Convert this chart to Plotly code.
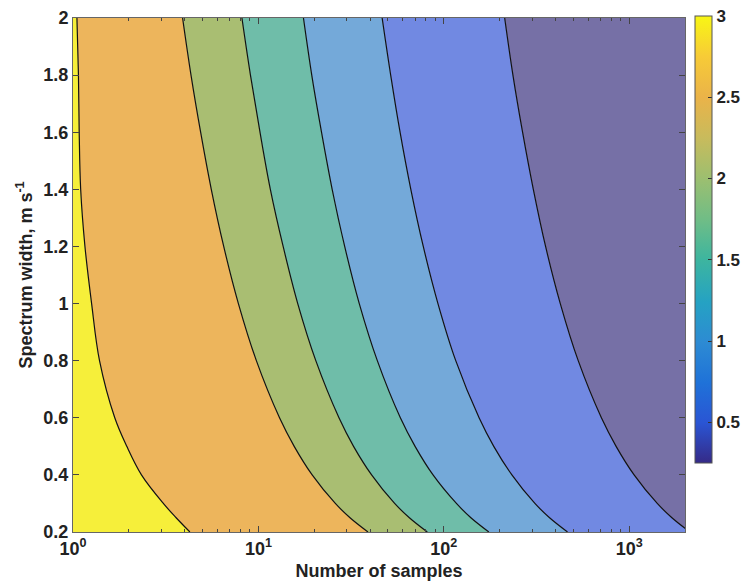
import plotly.graph_objects as go

# Spectrum width (m s^-1) at which each contour boundary was sampled
width_grid = [0.2, 0.25, 0.3, 0.4, 0.5, 0.6, 0.8, 1.0, 1.2, 1.4, 1.6, 1.8, 2.0]

# Outermost (yellow / orange) boundary: its own sampling in width
width_first = [0.2, 0.25, 0.3, 0.4, 0.5, 0.6, 0.8, 1.0, 1.2, 1.4, 1.6, 1.8, 2.0]
n_yellow_orange = [4.27, 3.6, 3.07, 2.34, 1.95, 1.68, 1.39, 1.26, 1.16, 1.10, 1.08, 1.07, 1.05]

# Number of samples along the remaining contour boundaries
n_orange_green = [39.0, 31.2, 26.0, 19.5, 15.6, 13.0, 9.75, 7.8, 6.5, 5.57, 4.88, 4.33, 3.9]
n_green_teal = [81.5, 65.2, 54.3, 40.8, 32.6, 27.2, 20.4, 16.3, 13.6, 11.6, 10.2, 9.06, 8.15]
n_teal_lightblue = [175, 140, 117, 87.5, 70, 58.3, 43.8, 35, 29.2, 25, 21.9, 19.4, 17.5]
n_lightblue_blue = [465, 372, 310, 233, 186, 155, 116, 93, 77.5, 66.4, 58.1, 51.7, 46.5]
n_blue_purple = [2125, 1700, 1417, 1063, 850, 708, 531, 425, 354, 304, 266, 236, 213]

# Fill colour of each band, from the left-most (highest value) to the right-most
band_colors = ["#F6EF3A", "#EDB55C", "#A9BE72", "#6FBDA9", "#74A9D9", "#7189E2", "#7670A6"]

# Parula-like colour scale for the colour bar
parula = [
    [0.0, "#352a87"], [0.09, "#2a55d4"], [0.18, "#1f72d8"], [0.27, "#2d8bd3"],
    [0.36, "#25a2c3"], [0.455, "#3db59f"], [0.545, "#70bd86"], [0.636, "#9cbf70"],
    [0.727, "#c8bb5c"], [0.818, "#eab349"], [0.909, "#f7cb37"], [1.0, "#f8f614"],
]
cbar_min, cbar_max = 0.25, 3.0

x_min, x_max = 1, 2000
y_min, y_max = 0.2, 2.0

fig = go.Figure()

# Boundaries in left-to-right order; the outer edges lie just past the axis range
edges = [
    (width_grid, [0.5] * len(width_grid), False),
    (width_first, n_yellow_orange, True),
    (width_grid, n_orange_green, True),
    (width_grid, n_green_teal, True),
    (width_grid, n_teal_lightblue, True),
    (width_grid, n_lightblue_blue, True),
    (width_grid, n_blue_purple, True),
    (width_grid, [4000] * len(width_grid), False),
]

for i, (w, n, drawn) in enumerate(edges):
    fig.add_trace(go.Scatter(
        x=n, y=w,
        mode="lines",
        line=dict(color="rgba(0,0,0,0)", width=0, shape="spline", smoothing=1.0),
        fill=None if i == 0 else "tonextx",
        fillcolor=None if i == 0 else band_colors[i - 1],
        hoverinfo="skip",
        showlegend=False,
    ))

# Boundary lines drawn on top of all fills
for w, n, drawn in edges:
    if drawn:
        fig.add_trace(go.Scatter(
            x=n, y=w, mode="lines",
            line=dict(color="#111111", width=1.2, shape="spline", smoothing=1.0),
            hoverinfo="skip", showlegend=False,
        ))

# Colour bar
fig.add_trace(go.Scatter(
    x=[None], y=[None], mode="markers",
    marker=dict(
        color=[cbar_min, cbar_max], cmin=cbar_min, cmax=cbar_max,
        colorscale=parula, showscale=True,
        colorbar=dict(
            thickness=17, lenmode="pixels", len=447,
            x=1.016, xanchor="left", y=1.004, yanchor="top",
            outlinecolor="#555555", outlinewidth=1,
            ticks="inside", ticklen=4, tickcolor="#333333",
            tickvals=[0.5, 1, 1.5, 2, 2.5, 3],
            ticktext=["0.5", "1", "1.5", "2", "2.5", "3"],
            tickfont=dict(family="Liberation Sans", size=17, color="#222222", weight="bold"),
            xpad=0, ypad=0,
        ),
    ),
    hoverinfo="skip", showlegend=False,
))

font_main = dict(family="Liberation Sans", size=18, color="#222222", weight="bold")
minor_vals = [m * 10 ** d for d in range(0, 4) for m in range(2, 10) if m * 10 ** d < x_max]

fig.update_layout(
    width=745, height=588,
    margin=dict(l=73, r=60, t=18, b=56, autoexpand=False),
    paper_bgcolor="white", plot_bgcolor="white",
    font=font_main,
    xaxis=dict(
        type="log", range=[0, 3.30103],
        tickvals=[1, 10, 100, 1000],
        ticktext=["10<sup>0</sup>", "10<sup>1</sup>", "10<sup>2</sup>", "10<sup>3</sup>"],
        ticks="inside", ticklen=6, tickcolor="#444444",
        minor=dict(tickvals=minor_vals, ticks="inside", ticklen=3, tickcolor="#444444", showgrid=False),
        showline=True, linecolor="#666666", linewidth=1, mirror="allticks",
        showgrid=False, zeroline=False,
        tickfont=font_main,
        title=dict(text="Number of samples", font=font_main, standoff=6),
    ),
    yaxis=dict(
        range=[y_min, y_max],
        tickvals=[0.2, 0.4, 0.6, 0.8, 1.0, 1.2, 1.4, 1.6, 1.8, 2.0],
        ticktext=["0.2", "0.4", "0.6", "0.8", "1", "1.2", "1.4", "1.6", "1.8", "2"],
        ticks="inside", ticklen=6, tickcolor="#444444",
        showline=True, linecolor="#666666", linewidth=1, mirror="allticks",
        showgrid=False, zeroline=False,
        tickfont=font_main,
        title=dict(text="Spectrum width, m s<sup>-1</sup>", font=font_main, standoff=6),
    ),
)

fig.write_html("out.html")
